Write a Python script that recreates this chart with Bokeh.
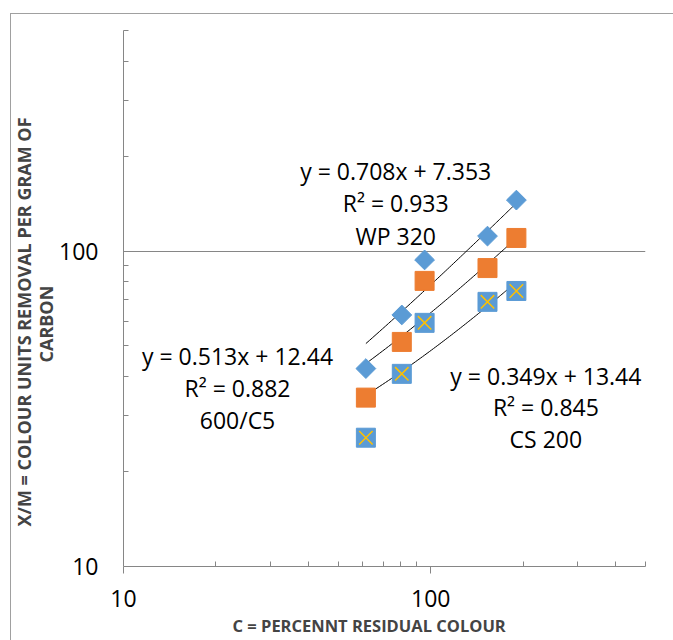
import numpy as np
from bokeh.plotting import figure
from bokeh.models import FixedTicker, Title, Label, PrintfTickFormatter
from bokeh.embed import file_html
from bokeh.resources import INLINE

# ---- data ----
conc = [61.5, 80.5, 95.5, 153.0, 190.0]          # C = percent residual colour
wp320 = [42.4, 62.7, 93.7, 111.5, 145.0]         # diamonds
c600 = [34.3, 51.5, 80.4, 88.3, 110.0]           # squares
cs200 = [25.6, 40.8, 59.2, 69.0, 74.7]           # crossed squares

slopes = [0.708, 0.513, 0.349]
intercepts = [7.353, 12.44, 13.44]
r2 = ["0.933", "0.882", "0.845"]
names = ["WP 320", "600/C5", "CS 200"]

x_major = [10, 100]
x_minor = [20, 30, 40, 50, 60, 70, 80, 90, 200, 300, 400, 500]
y_major = [10, 100]
y_minor = [20, 30, 40, 50, 60, 70, 80, 90, 200, 300, 400, 500]

BLUE = "#5B9BD5"
ORANGE = "#ED7D31"
GOLD = "#FFC000"
AXIS = "#868686"
FONT = "Open Sans"

p = figure(width=673, height=640, x_axis_type="log", y_axis_type="log",
           x_range=(10, 500), y_range=(10, 500),
           output_backend="svg", toolbar_location=None,
           min_border_left=123, min_border_top=30, min_border_right=28,
           min_border_bottom=74)
p.border_fill_color = None
p.background_fill_color = "white"
p.outline_line_color = None
p.styles = {
    "background-image": "linear-gradient(#a0a0a0,#a0a0a0), linear-gradient(#a0a0a0,#a0a0a0)",
    "background-size": "1px 100%, 100% 1px",
    "background-position": "10px 13px, 10px 13px",
    "background-repeat": "no-repeat",
}

for ax, maj, mnr in ((p.xaxis[0], x_major, x_minor), (p.yaxis[0], y_major, y_minor)):
    ax.ticker = FixedTicker(ticks=maj, minor_ticks=mnr)
    ax.formatter = PrintfTickFormatter(format="%d")
    ax.axis_line_color = AXIS
    ax.major_tick_line_color = AXIS
    ax.minor_tick_line_color = AXIS
    ax.minor_tick_in = 5
    ax.minor_tick_out = 0
    ax.major_tick_in = 0
    ax.major_label_text_font = FONT
    ax.major_label_text_font_size = "23px"
    ax.major_label_text_color = "black"

p.xaxis.major_tick_out = 7
p.xaxis.major_label_standoff = 16
p.yaxis.major_tick_out = 0
p.yaxis.major_label_standoff = 25

p.xgrid.visible = False
p.ygrid.ticker = FixedTicker(ticks=[100])
p.ygrid.grid_line_color = AXIS

# axis titles
p.add_layout(Title(text="CARBON", align="left", offset=204, standoff=-2,
                   text_font=FONT, text_font_size="18px", text_font_style="bold"), "left")
p.add_layout(Title(text="X/M = COLOUR UNITS REMOVAL PER GRAM OF", align="left", offset=40,
                   standoff=-6, text_font=FONT, text_font_size="18px",
                   text_font_style="bold"), "left")
p.add_layout(Title(text="C =  PERCENNT RESIDUAL COLOUR", align="left", offset=109, standoff=5,
                   text_font=FONT, text_font_size="16.5px", text_font_style="bold"), "below")

# trendlines (linear fits as displayed)
xs = np.linspace(min(conc), max(conc), 80)
for s, b in zip(slopes, intercepts):
    p.line(xs, s * xs + b, line_color="black", line_width=1)

# markers
p.scatter(conc, wp320, marker="square", angle=np.pi / 4, size=14,
          fill_color=BLUE, line_color=BLUE)
p.scatter(conc, c600, marker="square", size=19, fill_color=ORANGE, line_color=ORANGE)
p.scatter(conc, cs200, marker="square", size=19, fill_color=BLUE, line_color=BLUE)
p.scatter(conc, cs200, marker="x", size=19, line_color=GOLD, line_width=1.5)

# equation labels
label_pos = [(76.9, [179.1, 141.9, 111.6]),
             (23.5, [46.5, 36.9, 29.2]),
             (237.0, [40.2, 32.1, 25.4])]
for i, (lx, lys) in enumerate(label_pos):
    lines = [f"y = {slopes[i]}x + {intercepts[i]}", f"R² = {r2[i]}", names[i]]
    for t, ly in zip(lines, lys):
        p.add_layout(Label(x=lx, y=ly, text=t, text_align="center", text_baseline="middle",
                           text_font=FONT, text_font_size="23px", text_color="black"))

open("out.html", "w").write(file_html(p, INLINE))
